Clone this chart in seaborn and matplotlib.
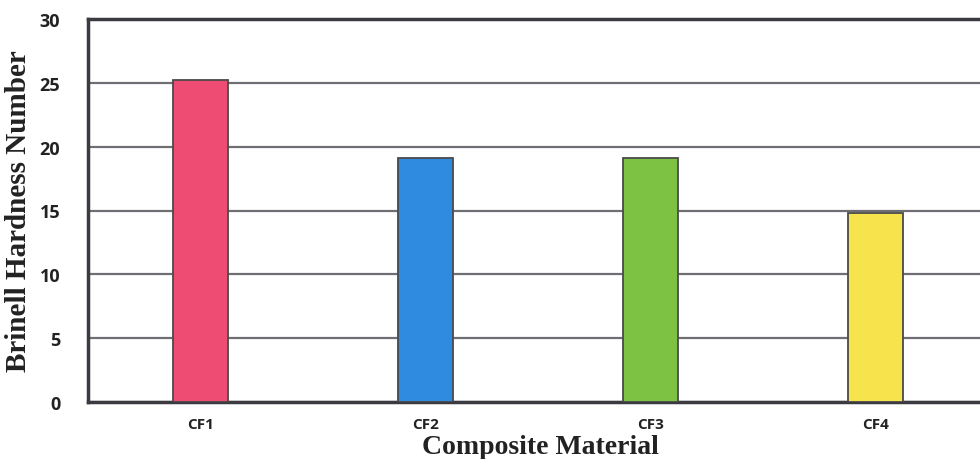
import pandas as pd
import seaborn as sns
import matplotlib.pyplot as plt

# --- Data ---
materials = ["CF1", "CF2", "CF3", "CF4"]
hardness = [25.2, 19.1, 19.1, 14.8]
bar_colors = ["#EE4C72", "#2F8BE0", "#7DC242", "#F7E44C"]

df = pd.DataFrame({"Material": materials, "BHN": hardness})

sns.set_theme(style="white")

fig = plt.figure(figsize=(9.8, 4.6), dpi=100)
ax = fig.add_axes([88 / 980, 57 / 460, 892 / 980, 383 / 460])

sns.barplot(
    data=df, x="Material", y="BHN", hue="Material",
    palette=bar_colors, legend=False, width=0.245,
    edgecolor="#4a4a4a", linewidth=1.3, saturation=1, ax=ax, zorder=3
)

ax.set_ylim(0, 30)
ax.set_xlim(-0.5, 3.464)
ax.set_yticks(range(0, 31, 5))
ax.yaxis.grid(True, color="#6e6e74", linewidth=1.6, zorder=0)
ax.set_axisbelow(True)

for side in ["left", "bottom", "top"]:
    ax.spines[side].set_color("#3a3a40")
    ax.spines[side].set_linewidth(2.5)
ax.spines["right"].set_visible(False)

ax.tick_params(axis="both", length=0)
ax.tick_params(axis="y", pad=20)
ax.tick_params(axis="x", pad=11)
for lbl in ax.get_yticklabels():
    lbl.set_fontfamily("Open Sans")
    lbl.set_fontweight("bold")
    lbl.set_fontsize(13)
    lbl.set_color("#222222")
for lbl in ax.get_xticklabels():
    lbl.set_fontfamily("Open Sans")
    lbl.set_fontweight("bold")
    lbl.set_fontsize(11)
    lbl.set_color("#222222")

ax.set_ylabel("Brinell Hardness Number", fontfamily="Liberation Serif",
              fontweight="bold", fontsize=21, color="#222222")
ax.set_xlabel("")
fig.text(540 / 980, 1 - 448 / 460, "Composite Material", ha="center", va="center",
         fontfamily="Liberation Serif", fontweight="bold", fontsize=20, color="#222222")
ax.yaxis.set_label_coords(-56 / 892, 0.5)

fig.savefig("out.png", dpi=100)
